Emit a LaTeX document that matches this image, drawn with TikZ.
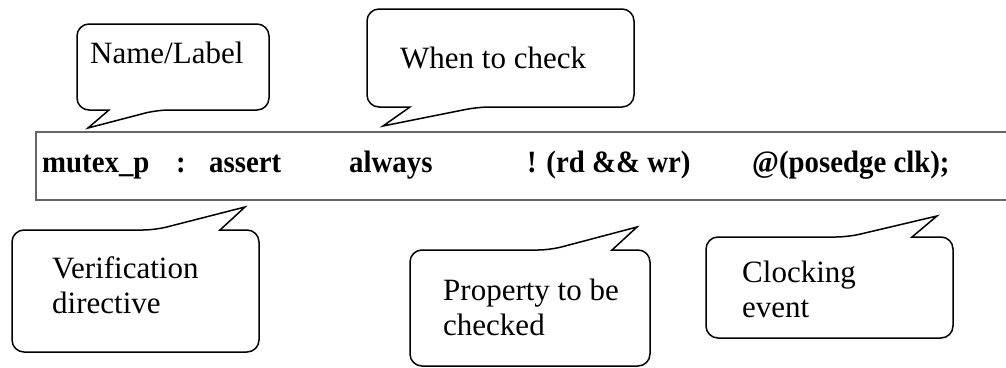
\documentclass[tikz,border=0pt]{standalone}
\usepackage{fontspec}
\setmainfont{Liberation Serif}
\newfontfamily\codefont[FakeStretch=0.93]{Liberation Serif}

\begin{document}
\begin{tikzpicture}[x=1pt,y=-1pt,
  bubble/.style={draw, line width=1.5pt, line join=miter},
  say/.style={inner sep=0pt, align=left, anchor=base west, font=\fontsize{31}{35}\selectfont},
  word/.style={inner sep=0pt, anchor=base west, font=\fontsize{31}{35}\codefont\bfseries}]
\useasboundingbox (0,0) rectangle (1006,367);
% the assertion line
\draw[line width=1.5pt, black!60] (36,132) rectangle (1020,200);
\node[word] (mutex) at (42,172) {mutex\_p};
\node[word] (colon) at (176,172) {:};
\node[word] (assert) at (209,172) {assert};
\node[word] (always) at (349,172) {always};
\node[word] (prop) at (527,172) {! (rd \&\& wr)};
\node[word] (clk) at (752,172) {@(posedge clk);};
% callouts above
\draw[bubble] (88,128) -- (109,110) -- (100,110) [rounded corners=12pt] -- (77,110) -- (77,24) -- (269,24) -- (269,110) -- (157,110) [sharp corners] -- cycle;
\node[say] (name) at (90,63) {Name/Label};
\draw[bubble] (383,126) -- (410,107) -- (400,107) [rounded corners=12pt] -- (367,107) -- (367,9) -- (634,9) -- (634,107) -- (478,107) [sharp corners] -- cycle;
\node[say] (when) at (400,68) {When to check};
% callouts below
\draw[bubble] (245,207) -- (220,230) -- (230,230) [rounded corners=12pt] -- (259,230) -- (259,352) -- (12,352) -- (12,230) -- (155,230) [sharp corners] -- cycle;
\node[say] (verif) at (52,313) {Verification\\directive};
\draw[bubble] (637,227) -- (612,250) -- (622,250) [rounded corners=12pt] -- (650,250) -- (650,366) -- (410,366) -- (410,250) -- (550,250) [sharp corners] -- cycle;
\node[say] (propty) at (443,335) {Property to be\\checked};
\draw[bubble] (937,216) -- (912,237) -- (922,237) [rounded corners=12pt] -- (953,237) -- (953,338) -- (706,338) -- (706,237) -- (848,237) [sharp corners] -- cycle;
\node[say] (clocking) at (742,317) {Clocking\\event};
\end{tikzpicture}
\end{document}
